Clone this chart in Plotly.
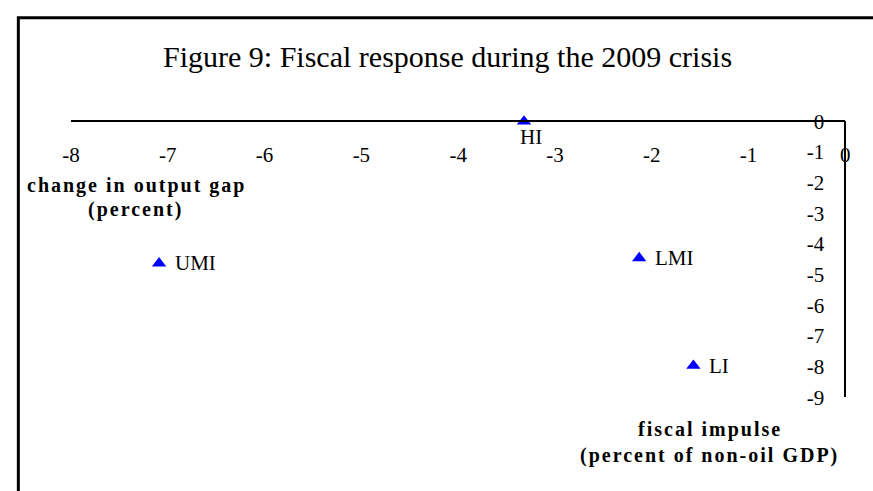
import plotly.graph_objects as go

# ---- data ----
groups = ["HI", "UMI", "LMI", "LI"]
fiscal_impulse = [-3.32, -7.09, -2.13, -1.57]      # x: percent of non-oil GDP
output_gap_change = [0.0, -4.63, -4.46, -7.97]    # y: percent
x_tick_values = [-8, -7, -6, -5, -4, -3, -2, -1, 0]
y_tick_values = [0, -1, -2, -3, -4, -5, -6, -7, -8, -9]

title_text = "Figure 9: Fiscal response during the 2009 crisis"
y_title_lines = ["change in output gap", "(percent)"]
x_title_lines = ["fiscal impulse", "(percent of non-oil GDP)"]

W, H = 873, 491
SERIF = "Liberation Serif, Times New Roman, serif"

# plot area in pixels
px_left, px_right = 63, 850
px_top, px_bottom = 115, 405
xdom = [px_left / W, px_right / W]
ydom = [1 - px_bottom / H, 1 - px_top / H]

fig = go.Figure()
fig.add_trace(go.Scatter(
    x=fiscal_impulse,
    y=output_gap_change,
    mode="markers",
    marker=dict(symbol="triangle-up", size=12.5, color="#0000FF"),
    cliponaxis=False,
    showlegend=False,
))


def paper_label(txt, xc, yc, size=20, bold=True):
    return dict(text=("<b>%s</b>" % txt) if bold else txt, xref="paper", yref="paper",
                x=xc / W, y=1 - yc / H, showarrow=False, xanchor="center", yanchor="middle",
                font=dict(family=SERIF, size=size, color="black"))


point_labels = []
for g, xv, yv in zip(groups, fiscal_impulse, output_gap_change):
    if g == "HI":
        point_labels.append(dict(text=g, x=xv, y=yv, xref="x", yref="y", showarrow=False,
                                 xanchor="center", yanchor="middle", xshift=7, yshift=-16,
                                 font=dict(family=SERIF, size=21, color="black")))
    else:
        point_labels.append(dict(text=g, x=xv, y=yv, xref="x", yref="y", showarrow=False,
                                 xanchor="left", yanchor="middle", xshift=14, yshift=0,
                                 font=dict(family=SERIF, size=21, color="black")))

fig.update_layout(
    width=W, height=H,
    margin=dict(l=0, r=0, t=0, b=0),
    paper_bgcolor="white", plot_bgcolor="white",
    font=dict(family=SERIF, size=21, color="black"),
    xaxis=dict(
        domain=xdom, range=[-8, 0], anchor="free", position=ydom[1], side="bottom",
        tickvals=x_tick_values, ticktext=[str(v) for v in x_tick_values],
        showline=True, linecolor="black", linewidth=2, ticks="",
        showgrid=False, zeroline=False, ticklabelstandoff=14,
        tickfont=dict(family=SERIF, size=21),
    ),
    yaxis=dict(
        domain=ydom, range=[-9, 0], anchor="free", position=xdom[1], side="left",
        tickvals=y_tick_values, ticktext=[str(v) for v in y_tick_values],
        showline=True, linecolor="black", linewidth=2, ticks="",
        showgrid=False, zeroline=False, ticklabelstandoff=16,
        tickfont=dict(family=SERIF, size=21),
    ),
    shapes=[dict(type="rect", xref="paper", yref="paper",
                 x0=9.5 / W, x1=1.05, y0=-0.05, y1=1 - 6 / H,
                 line=dict(color="black", width=3), fillcolor="rgba(0,0,0,0)")],
    annotations=[
        paper_label(title_text, 446, 47, size=30, bold=False),
        paper_label(y_title_lines[0], 130, 182),
        paper_label(y_title_lines[1], 129, 208),
        paper_label(x_title_lines[0], 712, 439),
        paper_label(x_title_lines[1], 712, 466),
    ] + point_labels,
)

post = """
document.documentElement.style.margin='0';
document.body.style.margin='0';
document.body.style.overflow='hidden';
var st=document.createElement('style');
st.textContent='.annotation[data-index=\"1\"] text, .annotation[data-index=\"2\"] text, .annotation[data-index=\"3\"] text, .annotation[data-index=\"4\"] text {letter-spacing:2px;}';
document.head.appendChild(st);
"""

fig.write_html("out.html", post_script=post, config={"displayModeBar": False})
